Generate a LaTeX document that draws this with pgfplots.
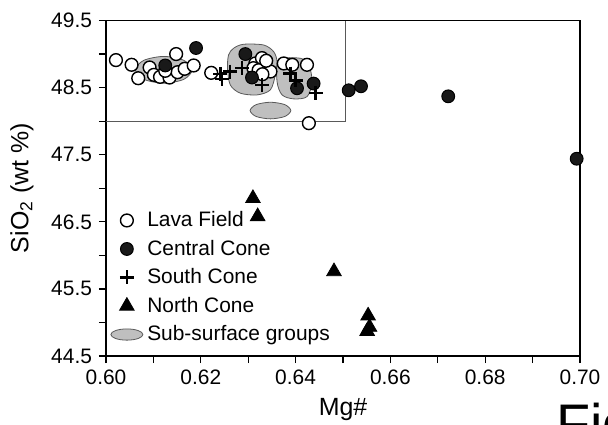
\documentclass[border=0pt]{standalone}
\usepackage{fontspec}
\setmainfont{Liberation Sans}
\usepackage{pgfplots}
\pgfplotsset{compat=1.18}
\begin{document}
\begin{tikzpicture}
\path[use as bounding box] (-53bp,-34.5bp) rectangle (251bp,178bp);
\begin{axis}[
 scale only axis, width=237bp, height=167.75bp,
 xmin=0.60, xmax=0.70, ymin=44.5, ymax=49.5,
 xtick={0.60,0.62,0.64,0.66,0.68,0.70},
 minor xtick={0.61,0.63,0.65,0.67,0.69},
 ytick={44.5,45.5,46.5,47.5,48.5,49.5},
 minor ytick={45,46,47,48,49},
 tick align=outside, tick pos=left,
 major tick length=3.5bp, minor tick length=3.5bp,
 every tick/.style={black, line width=0.6bp},
 axis line style={line width=0.6bp},
 x tick label style={/pgf/number format/fixed, /pgf/number format/fixed zerofill, /pgf/number format/precision=2},
 y tick label style={/pgf/number format/fixed, /pgf/number format/fixed zerofill, /pgf/number format/precision=1},
 /pgf/number format/assume math mode=true,
 tick label style={font=\fontsize{10.5}{12}\selectfont},
 label style={font=\fontsize{12.5}{15}\selectfont},
 xlabel={Mg\#}, ylabel={SiO\textsubscript{2} (wt \%)},
 ylabel shift=2bp,
 clip=false,
 legend style={at={(-0.004,0.012)}, anchor=south west, draw=none, fill=none,
   font=\fontsize{10.5}{12}\selectfont, row sep=1.2bp},
 legend cell align=left,
]
% inset box
\addplot[gray!70!black, line width=0.6bp, forget plot] coordinates {(0.60,48.0) (0.6505,48.0) (0.6505,49.5)};
% sub-surface groups
\addplot[fill=gray!50, draw=gray!70!black, line width=0.4bp, smooth cycle, forget plot] coordinates {
(0.6182,48.765) (0.61644,48.906) (0.6122,48.965) (0.60796,48.906) (0.6062,48.765) (0.60796,48.624) (0.6122,48.565) (0.61644,48.624)};
\addplot[fill=gray!50, draw=gray!70!black, line width=0.4bp, smooth cycle, forget plot] coordinates {
(0.6390,48.158) (0.63774,48.246) (0.6347,48.282) (0.63166,48.246) (0.6304,48.158) (0.63166,48.070) (0.6347,48.034) (0.63774,48.070)};
\addplot[fill=gray!50, draw=gray!70!black, line width=0.4bp, smooth cycle, forget plot] coordinates {
(0.62691,49.086) (0.62903,49.146) (0.63326,49.135) (0.63537,49.036) (0.63609,48.887) (0.63573,48.690) (0.63467,48.466) (0.63186,48.391) (0.62833,48.417) (0.62622,48.540) (0.62564,48.789) (0.62586,48.987)};
\addplot[fill=gray!50, draw=gray!70!black, line width=0.4bp, smooth cycle, forget plot] coordinates {
(0.63643,48.912) (0.64101,48.937) (0.64277,48.838) (0.64349,48.589) (0.64243,48.366) (0.63960,48.332) (0.63715,48.391) (0.63609,48.589)};
% Lava Field
\addplot[only marks, mark=*, mark size=3.2bp, mark options={fill=white, draw=black, line width=0.7bp}] coordinates {
(0.6021,48.91) (0.6054,48.84) (0.6068,48.64) (0.6092,48.80) (0.6101,48.69) (0.6114,48.66) (0.6134,48.65) (0.6151,48.73) (0.6148,49.00) (0.6166,48.78) (0.6185,48.83) (0.6125,48.75)
(0.6222,48.72) (0.6315,48.86) (0.6329,48.94) (0.6311,48.79) (0.6322,48.76) (0.6347,48.74) (0.6338,48.90) (0.6330,48.70) (0.6375,48.86) (0.6393,48.84) (0.6424,48.84) (0.6428,47.97)};
\addlegendentry{Lava Field}
% Central Cone
\addplot[only marks, mark=*, mark size=3.2bp, mark options={fill=black!90, draw=black, line width=0.5bp}] coordinates {
(0.6125,48.83) (0.6190,49.09) (0.6294,49.00) (0.6308,48.65) (0.6403,48.49) (0.6438,48.56) (0.6512,48.46) (0.6538,48.52) (0.6722,48.37) (0.6993,47.44)};
\addlegendentry{Central Cone}
% South Cone
\addplot[only marks, mark=+, mark size=3.5bp, mark options={draw=black, line width=1.3bp}] coordinates {
(0.6241,48.70) (0.6245,48.63) (0.6262,48.74) (0.6287,48.79) (0.6329,48.54) (0.6389,48.71) (0.6400,48.61) (0.6442,48.42)};
\addlegendentry{South Cone}
% North Cone
\addplot[only marks, mark=triangle*, mark size=4.2bp, mark options={fill=black, draw=black}] coordinates {
(0.6310,46.85) (0.6320,46.58) (0.6481,45.76) (0.6553,45.10) (0.6556,44.93) (0.6551,44.87)};
\addlegendentry{North Cone}
\addlegendimage{legend image code/.code={\draw[fill=gray!50, draw=gray!70!black, line width=0.4bp] (0.3cm,0) ellipse [x radius=8bp, y radius=2.8bp];}}
\addlegendentry{Sub-surface groups}
\end{axis}
\node[anchor=base west, inner sep=0pt, font=\fontsize{28}{30}\selectfont] at (225bp,-43.5bp) {Fig};
\end{tikzpicture}
\end{document}
